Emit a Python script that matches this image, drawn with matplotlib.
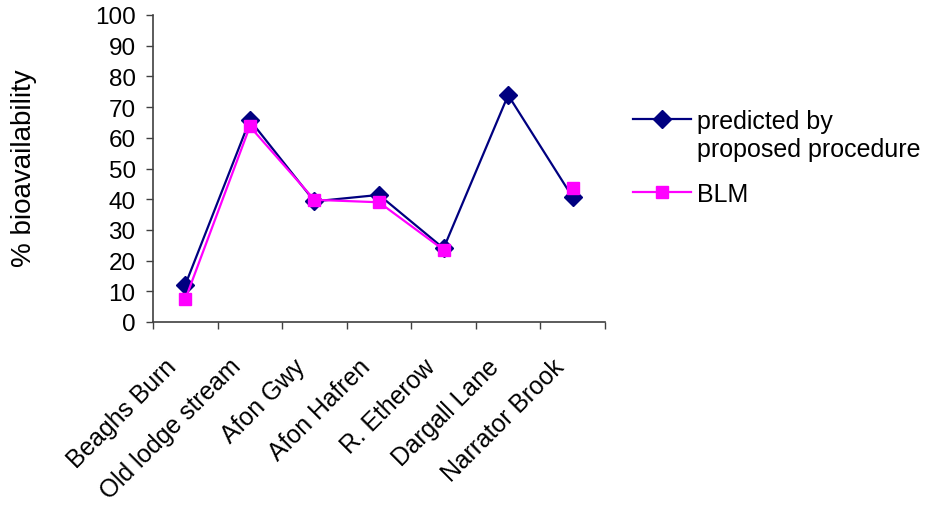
import matplotlib
matplotlib.use("Agg")
import matplotlib.pyplot as plt
from matplotlib.lines import Line2D
from matplotlib.transforms import ScaledTranslation
import numpy as np

plt.rcParams['font.family'] = ['Liberation Sans', 'DejaVu Sans']

# sites along the x axis
sites = ["Beaghs Burn", "Old lodge stream", "Afon Gwy", "Afon Hafren",
         "R. Etherow", "Dargall Lane", "Narrator Brook"]
# % bioavailability
predicted = [12.1, 65.8, 39.3, 41.4, 24.0, 73.9, 40.6]
blm = [7.4, 63.7, 39.8, 39.0, 23.5, np.nan, 43.5]  # no BLM value for Dargall Lane

navy = "#000080"
magenta = "#ff00ff"

fig = plt.figure(figsize=(9.26, 5.06), dpi=100)
ax = fig.add_axes([153 / 926, 1 - 323 / 506, (605 - 153) / 926, (323 - 16) / 506])

x = np.arange(len(sites))
l1, = ax.plot(x, predicted, color=navy, lw=1.6, marker="D", markersize=9.5, zorder=3)
l2, = ax.plot(x, blm, color=magenta, lw=1.6, marker="s", markersize=9, zorder=4)

ax.set_xlim(-0.5, len(sites) - 0.5)
ax.set_ylim(0, 100)
ax.set_yticks(np.arange(0, 101, 10))
ax.set_xticks(np.arange(-0.5, len(sites), 1.0))
ax.set_xticklabels([])
ax.set_xticks(x, minor=True)
ax.set_xticklabels(sites, minor=True, rotation=45, ha="right",
                   rotation_mode="anchor", fontsize=17.8)
ax.tick_params(axis="x", which="minor", length=0, pad=23)
ax.tick_params(axis="x", which="major", direction="out", length=5, width=1, color="#404040")
ax.tick_params(axis="y", direction="out", length=5, width=1, color="#404040",
               labelsize=17.5, pad=7.5)

# shift the slanted labels a little to the left, like the original
shift = ScaledTranslation(-0.21, 0, fig.dpi_scale_trans)
for lab in ax.get_xticklabels(minor=True):
    lab.set_transform(lab.get_transform() + shift)

for s in ["top", "right"]:
    ax.spines[s].set_visible(False)
for s in ["left", "bottom"]:
    ax.spines[s].set_color("#404040")
    ax.spines[s].set_linewidth(1.2)

fig.text(24 / 926, 1 - 168 / 506, "% bioavailability", rotation=90,
         ha="center", va="center", fontsize=20)

# legend: the two-line label keeps its marker on the first line
blank = Line2D([], [], color="none")
leg_kw = dict(frameon=False, fontsize=18, handlelength=2.3, handletextpad=0.25,
              borderpad=0, borderaxespad=0)
fig.legend([l1, blank], ["predicted by", "proposed procedure"], loc="center left",
           bbox_to_anchor=(633 / 926, 1 - 136 / 506), labelspacing=0.15, **leg_kw)
fig.legend([l2], ["BLM"], loc="center left",
           bbox_to_anchor=(633 / 926, 1 - 195 / 506), **leg_kw)

fig.savefig("out.png", dpi=100)
